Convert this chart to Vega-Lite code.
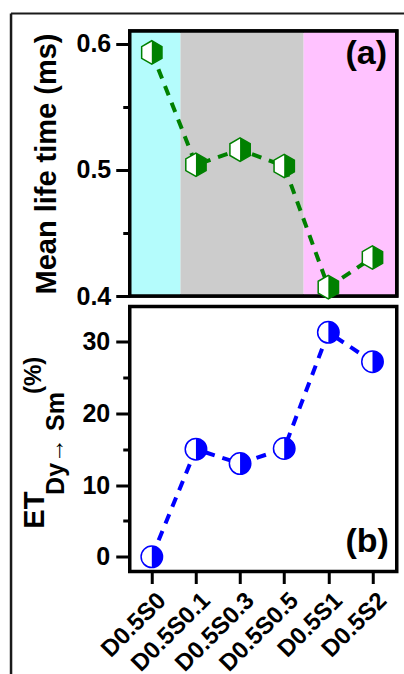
{
  "$schema": "https://vega.github.io/schema/vega-lite/v6.json",
  "autosize": {"type": "pad"},
  "padding": {"left": 7.75, "top": 10, "right": 0, "bottom": 0},
  "background": "white",
  "bounds": "flush",
  "spacing": 10.5,
  "config": {
    "font": "Liberation Sans",
    "view": {"stroke": "black", "strokeWidth": 3.5},
    "axis": {
      "domain": false, "grid": false, "tickColor": "black", "tickWidth": 3,
      "labelFont": "Liberation Sans", "labelFontWeight": "bold", "labelColor": "black",
      "labelFontSize": 25, "titleFont": "Liberation Sans", "titleFontWeight": "bold", "titleColor": "black",
      "labelOverlap": false, "labelFlush": false
    }
  },
  "datasets": {
    "samples": [
      {"idx": 0, "sample": "D0.5S0", "lifetime": 0.593, "et": 0},
      {"idx": 1, "sample": "D0.5S0.1", "lifetime": 0.504, "et": 15.0},
      {"idx": 2, "sample": "D0.5S0.3", "lifetime": 0.516, "et": 13.0},
      {"idx": 3, "sample": "D0.5S0.5", "lifetime": 0.503, "et": 15.1},
      {"idx": 4, "sample": "D0.5S1", "lifetime": 0.407, "et": 31.3},
      {"idx": 5, "sample": "D0.5S2", "lifetime": 0.4305, "et": 27.2}
    ],
    "regions": [
      {"region": "A", "start": -0.5, "end": 0.65},
      {"region": "B", "start": 0.65, "end": 3.44},
      {"region": "C", "start": 3.44, "end": 5.55}
    ]
  },
  "resolve": {"scale": {"x": "independent", "y": "independent", "color": "independent"}},
  "vconcat": [
    {
      "width": 267,
      "height": 265,
      "layer": [
        {
          "data": {"name": "regions"},
          "mark": {"type": "rect", "opacity": 1},
          "encoding": {
            "x": {"field": "start", "type": "quantitative", "scale": {"domain": [-0.5, 5.55], "nice": false, "zero": false}, "axis": null},
            "x2": {"field": "end"},
            "y": {"datum": 0.61, "type": "quantitative", "scale": {"domain": [0.4, 0.61], "nice": false, "zero": false},
              "axis": {
                "values": [0.4, 0.45, 0.5, 0.55, 0.6],
                "labelExpr": "round(datum.value*20) % 2 == 0 ? format(datum.value, '.1f') : ''",
                "tickSize": {"condition": {"test": "round(datum.value*20) % 2 == 1", "value": 7}, "value": 14},
                "labelPadding": 5,
                "title": "Mean life time (ms)", "titleFontSize": 29, "titlePadding": 14
              }},
            "y2": {"datum": 0.4},
            "color": {"field": "region", "type": "nominal", "scale": {"domain": ["A", "B", "C"], "range": ["#b4fcfc", "#cccccc", "#ffc2ff"]}, "legend": null}
          }
        },
        {
          "data": {"values": [{}]},
          "mark": {"type": "rect", "fill": null, "fillOpacity": 0, "stroke": "black", "strokeWidth": 3.5},
          "encoding": {"x": {"datum": -0.5}, "x2": {"datum": 5.55}, "y": {"datum": 0.4}, "y2": {"datum": 0.61}}
        },
        {
          "data": {"name": "samples"},
          "mark": {"type": "line", "color": "#008000", "strokeWidth": 4, "strokeDash": [10, 8]},
          "encoding": {
            "x": {"field": "idx", "type": "quantitative"},
            "y": {"field": "lifetime", "type": "quantitative"}
          }
        },
        {
          "data": {"name": "samples"},
          "mark": {"type": "point", "shape": "M0,-1L0.866,-0.5L0.866,0.5L0,1L-0.866,0.5L-0.866,-0.5Z", "size": 550, "filled": true, "fill": "white", "stroke": "#008000", "strokeWidth": 1.5, "opacity": 1},
          "encoding": {
            "x": {"field": "idx", "type": "quantitative"},
            "y": {"field": "lifetime", "type": "quantitative"}
          }
        },
        {
          "data": {"name": "samples"},
          "mark": {"type": "point", "shape": "M0,-1L0.866,-0.5L0.866,0.5L0,1Z", "size": 550, "filled": true, "fill": "#008000", "strokeWidth": 0, "opacity": 1},
          "encoding": {
            "x": {"field": "idx", "type": "quantitative"},
            "y": {"field": "lifetime", "type": "quantitative"}
          }
        },
        {
          "data": {"values": [{}]},
          "mark": {"type": "text", "text": "(a)", "fontSize": 34, "fontWeight": "bold", "align": "center", "baseline": "middle", "color": "black"},
          "encoding": {"x": {"datum": 4.86}, "y": {"datum": 0.592}}
        },
        {
          "data": {"values": [{}]},
          "mark": {"type": "rule", "color": "#1a1a1a", "strokeWidth": 2.5},
          "encoding": {"x": {"datum": -3.19}, "y": {"datum": 0.6239}, "y2": {"datum": 0.0995}}
        },
        {
          "data": {"values": [{}]},
          "mark": {"type": "rule", "color": "#1a1a1a", "strokeWidth": 2},
          "encoding": {"x": {"datum": -3.19}, "x2": {"datum": 5.745}, "y": {"datum": 0.6239}}
        }
      ]
    },
    {
      "width": 267,
      "height": 265,
      "data": {"name": "samples"},
      "layer": [
        {
          "mark": {"type": "line", "color": "#0000ff", "strokeWidth": 4, "strokeDash": [10, 8]},
          "encoding": {
            "x": {"field": "idx", "type": "quantitative", "scale": {"domain": [-0.5, 5.55], "nice": false, "zero": false},
              "axis": {
                "values": [0, 1, 2, 3, 4, 5],
                "labelExpr": "['D0.5S0','D0.5S0.1','D0.5S0.3','D0.5S0.5','D0.5S1','D0.5S2'][datum.value]",
                "labelAngle": -45, "labelAlign": "right", "labelBaseline": "middle",
                "labelFontSize": 24, "tickSize": 12, "labelPadding": 13, "labelOffset": 10,
                "title": null
              }},
            "y": {"field": "et", "type": "quantitative", "scale": {"domain": [-2.05, 34.9], "nice": false, "zero": false},
              "axis": {
                "values": [0, 5, 10, 15, 20, 25, 30],
                "labelExpr": "datum.value % 10 == 0 ? datum.label : ''",
                "tickSize": {"condition": {"test": "datum.value % 10 != 0", "value": 7}, "value": 14},
                "labelPadding": 6,
                "title": null
              }}
          }
        },
        {
          "mark": {"type": "point", "shape": "circle", "size": 460, "filled": true, "fill": "white", "stroke": "#0000ff", "strokeWidth": 1.5, "opacity": 1},
          "encoding": {
            "x": {"field": "idx", "type": "quantitative"},
            "y": {"field": "et", "type": "quantitative"}
          }
        },
        {
          "mark": {"type": "point", "shape": "M0,-1C0.5523,-1 1,-0.5523 1,0C1,0.5523 0.5523,1 0,1Z", "size": 460, "filled": true, "fill": "#0000ff", "strokeWidth": 0, "opacity": 1},
          "encoding": {
            "x": {"field": "idx", "type": "quantitative"},
            "y": {"field": "et", "type": "quantitative"}
          }
        },
        {
          "data": {"values": [{}]},
          "mark": {"type": "text", "text": "(b)", "fontSize": 34, "fontWeight": "bold", "align": "center", "baseline": "middle", "color": "black"},
          "encoding": {"x": {"datum": 4.88}, "y": {"datum": 2.1}}
        },
        {
          "data": {"values": [{}]},
          "mark": {"type": "text", "text": "ET", "fontSize": 29, "fontWeight": "bold", "align": "center", "baseline": "middle", "angle": 270, "color": "black"},
          "encoding": {"x": {"datum": -2.65}, "y": {"datum": 6.5}}
        },
        {
          "data": {"values": [{}]},
          "mark": {"type": "text", "text": "Dy→ Sm", "fontSize": 25, "fontWeight": "bold", "align": "center", "baseline": "middle", "angle": 270, "color": "black"},
          "encoding": {"x": {"datum": -2.17}, "y": {"datum": 15.8}}
        },
        {
          "data": {"values": [{}]},
          "mark": {"type": "text", "text": "(%)", "fontSize": 24, "fontWeight": "bold", "align": "center", "baseline": "middle", "angle": 270, "color": "black"},
          "encoding": {"x": {"datum": -2.66}, "y": {"datum": 25.3}}
        }
      ]
    }
  ]
}
